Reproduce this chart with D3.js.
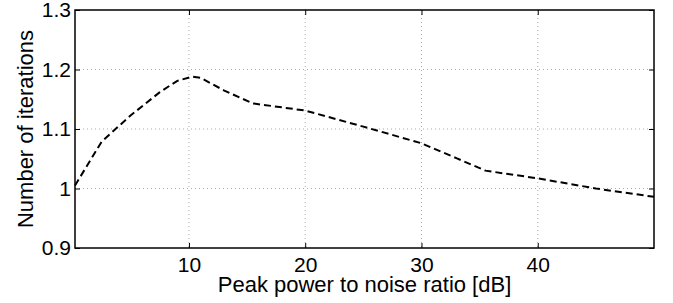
<!DOCTYPE html>
<html>
<head>
<meta charset="utf-8">
<script src="https://cdn.jsdelivr.net/npm/d3@7"></script>
<style>
body{margin:0;background:#fff;}
text{font-family:"Liberation Sans",Arial,sans-serif;fill:#000;}
</style>
</head>
<body>
<svg id="chart" width="673" height="303"></svg>
<script>
// peak power to noise ratio [dB]
var psnr = [0.2, 2.5, 5, 7.5, 9, 10.3, 11, 13, 15.5, 20, 25, 30, 33, 35.5, 40, 45, 50];
// average number of iterations
var iters = [1.005, 1.079, 1.123, 1.162, 1.181, 1.188, 1.186, 1.165, 1.143, 1.131, 1.104, 1.076, 1.051, 1.030, 1.017, 1.000, 0.986];
var xTicks = [10, 20, 30, 40];
var yTicks = [0.9, 1, 1.1, 1.2, 1.3];

var svg = d3.select("#chart");
var mLeft = 75, mRight = 654, mTop = 10, mBottom = 248;

var x = d3.scaleLinear().domain([0.2, 50]).range([mLeft, mRight]);
var y = d3.scaleLinear().domain([0.9, 1.3]).range([mBottom, mTop]);

// grid
svg.append("g").selectAll("line")
    .data(xTicks).enter().append("line")
    .attr("x1", d => x(d)).attr("x2", d => x(d))
    .attr("y1", mTop).attr("y2", mBottom)
    .attr("stroke", "#aaa").attr("stroke-width", 1)
    .attr("stroke-dasharray", "1,3");
svg.append("g").selectAll("line")
    .data(yTicks.slice(1, -1)).enter().append("line")
    .attr("x1", mLeft).attr("x2", mRight)
    .attr("y1", d => y(d)).attr("y2", d => y(d))
    .attr("stroke", "#aaa").attr("stroke-width", 1)
    .attr("stroke-dasharray", "1,3");

// curve
var line = d3.line()
    .x((d, i) => x(psnr[i]))
    .y(d => y(d));
svg.append("path")
    .datum(iters)
    .attr("d", line)
    .attr("fill", "none")
    .attr("stroke", "#000")
    .attr("stroke-width", 2)
    .attr("stroke-dasharray", "7,4");

// axes with inward ticks
var xAxis = d3.axisBottom(x).tickValues(xTicks).tickSizeInner(-5).tickSizeOuter(0).tickPadding(9).tickFormat(d3.format("d"));
var yAxis = d3.axisLeft(y).tickValues(yTicks).tickSizeInner(-5).tickSizeOuter(0).tickPadding(4).tickFormat(d => d === 1 ? "1" : d3.format(".1f")(d));

var gx = svg.append("g").attr("transform", "translate(0," + mBottom + ")").call(xAxis);
var gy = svg.append("g").attr("transform", "translate(" + mLeft + ",0)").call(yAxis);
[gx, gy].forEach(function(g){
    g.select(".domain").remove();
    g.selectAll("line").attr("stroke", "#000");
    g.selectAll("text").style("font-size", "21px").attr("fill", "#000");
});
// top and right ticks
svg.append("g").attr("transform", "translate(0," + mTop + ")")
    .call(d3.axisTop(x).tickValues(xTicks).tickSizeInner(-5).tickSizeOuter(0).tickFormat(""))
    .call(g => { g.select(".domain").remove(); g.selectAll("line").attr("stroke", "#000"); });
svg.append("g").attr("transform", "translate(" + mRight + ",0)")
    .call(d3.axisRight(y).tickValues(yTicks).tickSizeInner(-5).tickSizeOuter(0).tickFormat(""))
    .call(g => { g.select(".domain").remove(); g.selectAll("line").attr("stroke", "#000"); });

// box
svg.append("rect")
    .attr("x", mLeft).attr("y", mTop)
    .attr("width", mRight - mLeft).attr("height", mBottom - mTop)
    .attr("fill", "none").attr("stroke", "#000").attr("stroke-width", 1.5);

// labels
svg.append("text")
    .attr("x", (mLeft + mRight) / 2).attr("y", 292)
    .attr("text-anchor", "middle")
    .style("font-size", "22px")
    .text("Peak power to noise ratio [dB]");
svg.append("text")
    .attr("transform", "translate(33," + (mTop + mBottom) / 2 + ") rotate(-90)")
    .attr("text-anchor", "middle")
    .style("font-size", "22px")
    .text("Number of iterations");
</script>
</body>
</html>
